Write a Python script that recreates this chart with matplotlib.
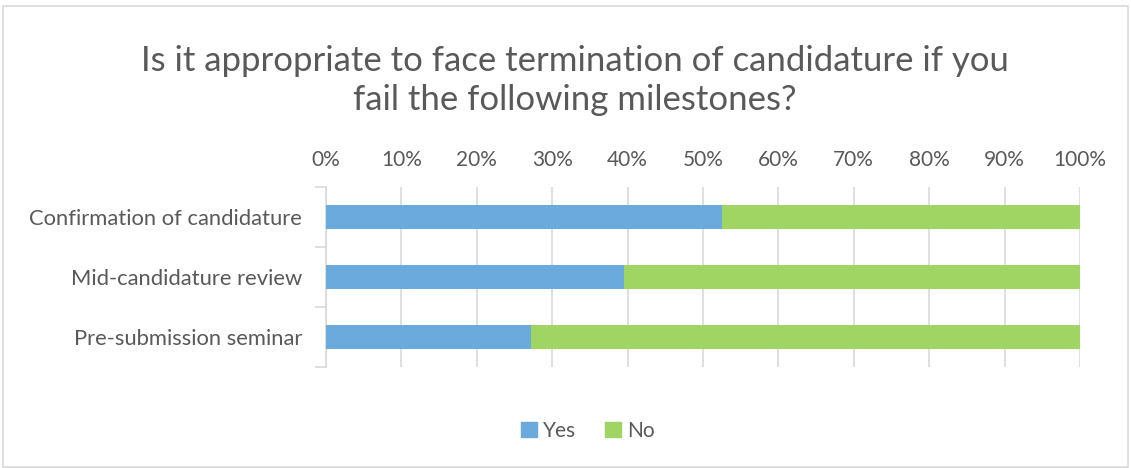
import numpy as np
import matplotlib.pyplot as plt
from matplotlib.patches import Rectangle, Patch

plt.rcParams['font.family'] = ['Lato', 'DejaVu Sans']

categories = ['Confirmation of candidature', 'Mid-candidature review', 'Pre-submission seminar']
yes_pct = [52.5, 39.5, 27.2]
no_pct = [100 - v for v in yes_pct]
ticks = [0, 10, 20, 30, 40, 50, 60, 70, 80, 90, 100]

BLUE = '#6AAADC'
GREEN = '#A0D564'
TXT = '#595959'
GRID = '#D9D9D9'

fig = plt.figure(figsize=(11.31, 4.68), dpi=100)
fig.patches.append(Rectangle((0.003, 0.003), 0.994, 0.985, transform=fig.transFigure,
                             fill=False, edgecolor=GRID, linewidth=1.2))
ax = fig.add_axes([0.2882, 0.2158, 0.6667, 0.3846])

y = np.arange(len(categories))
ax.barh(y, yes_pct, height=0.4, color=BLUE, label='Yes', zorder=3)
ax.barh(y, no_pct, left=yes_pct, height=0.4, color=GREEN, label='No', zorder=3)

ax.set_xlim(0, 100)
ax.set_ylim(len(categories) - 0.5, -0.5)
ax.set_yticks(y)
ax.set_yticklabels(categories)
ax.set_xticks(ticks)
ax.set_xticklabels([f'{t}%' for t in ticks])
ax.xaxis.tick_top()
ax.tick_params(axis='x', length=0, pad=12, labelsize=15, labelcolor=TXT)
ax.tick_params(axis='y', length=0, pad=17, labelsize=15.8, labelcolor=TXT)
ax.set_yticks([-0.5, 0.5, 1.5, 2.5], minor=True)
ax.tick_params(axis='y', which='minor', length=8, color=GRID, width=1.2)
ax.grid(axis='x', color=GRID, linewidth=1.2, zorder=0)
for s in ['top', 'right', 'bottom']:
    ax.spines[s].set_visible(False)
ax.spines['left'].set_color(GRID)
ax.spines['left'].set_linewidth(1.2)

fig.text(0.508, 0.828, 'Is it appropriate to face termination of candidature if you\nfail the following milestones?',
         ha='center', va='center', fontsize=25, color=TXT, linespacing=1.25)

handles = [Patch(color=BLUE, label='Yes'), Patch(color=GREEN, label='No')]
fig.legend(handles=handles, loc='center', bbox_to_anchor=(0.52, 0.08), ncol=2, frameon=False,
           fontsize=15, labelcolor=TXT, handlelength=0.75, handleheight=0.75, handletextpad=0.3,
           columnspacing=1.4)

fig.savefig('out.png', dpi=100)
